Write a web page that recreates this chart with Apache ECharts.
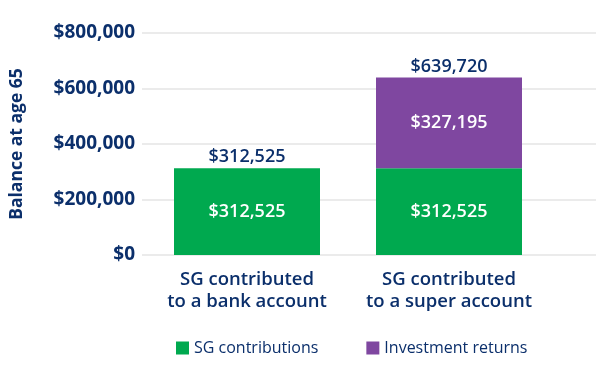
<!DOCTYPE html>
<html><head><meta charset="utf-8">
<script src="https://cdn.jsdelivr.net/npm/echarts@6/dist/echarts.min.js"></script>
<style>html,body{margin:0;padding:0;background:#fff}#c{width:600px;height:370px}</style>
</head><body><div id="c"></div>
<script>
const categories = ['SG contributed\nto a bank account', 'SG contributed\nto a super account'];
const sgContributions = [312525, 312525];
const investmentReturns = [0, 327195];
const yTicks = [0, 200000, 400000, 600000, 800000];
const seriesNames = ['SG contributions', 'Investment returns'];

const totals = sgContributions.map((v, i) => v + investmentReturns[i]);
const NAVY = '#0b2f6b', GREEN = '#00a94f', PURPLE = '#7f47a0';
const FONT = '"Open Sans", sans-serif';
const money = v => '$' + Number(v).toLocaleString('en-US');

const chart = echarts.init(document.getElementById('c'), null, {renderer: 'canvas'});
chart.setOption({
  animation: false,
  textStyle: {fontFamily: FONT},
  grid: [
    {left: 132, right: 4, top: 33, bottom: 115},
    {left: 146, right: 50, top: 33, bottom: 115}
  ],
  legend: {
    data: seriesNames, top: 335, left: 171, itemWidth: 13, itemHeight: 13, itemGap: 48,
    icon: 'rect',
    textStyle: {color: NAVY, fontSize: 16, fontFamily: FONT}
  },
  xAxis: [
    {type: 'category', gridIndex: 0, data: [''], show: false},
    {type: 'category', gridIndex: 1, data: categories,
     axisLine: {show: false}, axisTick: {show: false},
     axisLabel: {interval: 0, hideOverlap: false, color: NAVY, fontSize: 18.5, fontWeight: 600, fontFamily: FONT, lineHeight: 22, margin: 14}}
  ],
  yAxis: [
    {type: 'value', gridIndex: 0, min: 0, max: 800000, interval: 200000,
     name: 'Balance at age 65', nameLocation: 'middle', nameGap: 116,
     nameTextStyle: {color: NAVY, fontSize: 17.5, fontWeight: 700, fontFamily: FONT},
     axisLine: {show: false}, axisTick: {show: false},
     axisLabel: {color: NAVY, fontSize: 19, fontWeight: 700, fontFamily: FONT, margin: 7,
       formatter: v => yTicks.includes(v) ? money(v) : ''},
     splitLine: {lineStyle: {color: '#e4e4e4', width: 1.5}}},
    {type: 'value', gridIndex: 1, min: 0, max: 800000, interval: 200000, show: false, splitLine: {show: false}}
  ],
  series: [
    {name: seriesNames[0], type: 'bar', xAxisIndex: 1, yAxisIndex: 1, stack: 't', barWidth: 146,
     data: sgContributions, itemStyle: {color: GREEN},
     label: {show: true, position: 'inside', color: '#fff', fontSize: 18, fontWeight: 600, fontFamily: FONT,
       formatter: p => money(p.value)}},
    {name: seriesNames[1], type: 'bar', xAxisIndex: 1, yAxisIndex: 1, stack: 't', barWidth: 146,
     data: investmentReturns.map(v => v === 0 ? '-' : v), itemStyle: {color: PURPLE},
     label: {show: true, position: 'inside', color: '#fff', fontSize: 18, fontWeight: 600, fontFamily: FONT,
       formatter: p => money(p.value)}},
    {name: 'Total', type: 'scatter', xAxisIndex: 1, yAxisIndex: 1, data: totals, symbolSize: 0.001,
     itemStyle: {opacity: 1, color: NAVY},
     label: {show: true, position: 'top', distance: 2, color: NAVY, fontSize: 18, fontWeight: 600, fontFamily: FONT,
       formatter: p => money(p.value)}}
  ]
});
</script></body></html>
